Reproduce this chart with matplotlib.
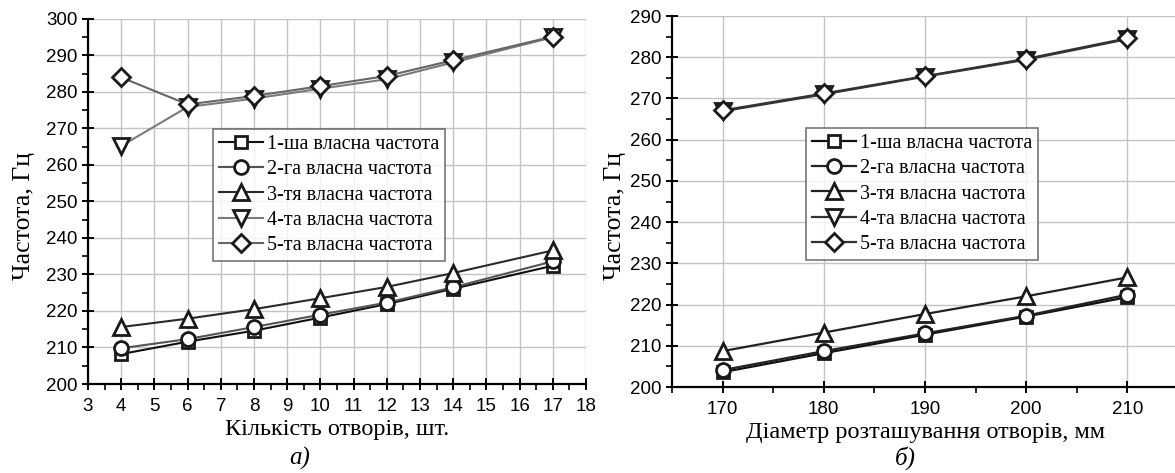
import matplotlib.pyplot as plt
from matplotlib.ticker import MultipleLocator

# ---- data: panel a) number of holes
holes = [4, 6, 8, 10, 12, 14, 17]
a_f1 = [208.2, 211.6, 214.6, 218.2, 221.9, 226.1, 232.4]
a_f2 = [209.8, 212.3, 215.6, 219.0, 222.3, 226.5, 233.6]
a_f3 = [215.6, 217.9, 220.5, 223.5, 226.6, 230.4, 236.6]
a_f4 = [265.2, 275.9, 278.2, 280.9, 283.5, 288.1, 295.0]
a_f5 = [284.0, 276.6, 278.9, 281.6, 284.4, 288.7, 295.2]

# ---- data: panel б) hole placement diameter
diam = [170, 180, 190, 200, 210]
b_f1 = [203.6, 208.2, 212.7, 217.1, 221.8]
b_f2 = [204.1, 208.7, 213.0, 217.3, 222.4]
b_f3 = [208.7, 213.2, 217.7, 222.0, 226.6]
b_f4 = [266.9, 271.0, 275.3, 279.4, 284.4]
b_f5 = [267.1, 271.2, 275.4, 279.6, 284.6]

labels = ['1-ша власна частота', '2-га власна частота', '3-тя власна частота',
          '4-та власна частота', '5-та власна частота']
markers = ['s', 'o', '^', 'v', 'D']
msizes = [9, 10, 11, 11, 9]
a_colors = ['#111111', '#555555', '#2a2a2a', '#7a7a7a', '#666666']
b_colors = ['#111111', '#222222', '#222222', '#333333', '#333333']

serif = ['Liberation Serif', 'DejaVu Serif']
sans = ['Liberation Sans', 'DejaVu Sans']

fig = plt.figure(figsize=(11.75, 4.73), dpi=100)
ax1 = fig.add_axes([88 / 1175, 1 - 384 / 473, (586 - 88) / 1175, (384 - 19) / 473])
ax2 = fig.add_axes([672 / 1175, 1 - 387 / 473, (1178 - 672) / 1175, (387 - 16) / 473])


def style_axes(ax, ylab_x):
    for s in ['top', 'right']:
        ax.spines[s].set_visible(False)
    for s in ['left', 'bottom']:
        ax.spines[s].set_linewidth(1.6)
    ax.grid(True, which='major', color='#c4c4c4', linewidth=1.0)
    ax.set_axisbelow(True)
    ax.tick_params(which='major', direction='inout', length=8, width=1.4,
                   labelsize=13.5, labelfontfamily=sans)
    ax.tick_params(axis='x', which='major', pad=6)
    ax.tick_params(which='minor', direction='out', length=4, width=1.2)
    ax.set_ylabel('Частота, Гц', family=serif, fontsize=18.5)
    ax.yaxis.set_label_coords(ylab_x, 0.46)


def draw(ax, x, series, colors, lw):
    for y, lab, m, ms, c in zip(series, labels, markers, msizes, colors):
        ax.plot(x, y, color=c, linewidth=lw, marker=m, markersize=ms,
                markerfacecolor='white', markeredgecolor='#1a1a1a',
                markeredgewidth=2.0, label=lab, clip_on=False, zorder=3)


draw(ax1, holes, [a_f1, a_f2, a_f3, a_f4, a_f5], a_colors, 1.5)
ax1.set_xlim(3, 18)
ax1.set_ylim(200, 300)
ax1.xaxis.set_major_locator(MultipleLocator(1))
ax1.xaxis.set_minor_locator(MultipleLocator(0.5))
ax1.yaxis.set_major_locator(MultipleLocator(10))
ax1.yaxis.set_minor_locator(MultipleLocator(5))
style_axes(ax1, -0.106)
ax1.set_xlabel('Кількість отворів, шт.', family=serif, fontsize=17.5, labelpad=3)

draw(ax2, diam, [b_f1, b_f2, b_f3, b_f4, b_f5], b_colors, 1.6)
ax2.set_xlim(165, 215)
ax2.set_ylim(200, 290)
ax2.xaxis.set_major_locator(MultipleLocator(10))
ax2.xaxis.set_minor_locator(MultipleLocator(5))
ax2.yaxis.set_major_locator(MultipleLocator(10))
ax2.yaxis.set_minor_locator(MultipleLocator(5))
style_axes(ax2, -0.09)
ax2.set_xlabel('Діаметр розташування отворів, мм', family=serif, fontsize=17.5,
               labelpad=3)

for ax, bbox in [(ax1, (210 / 1175, 1 - 258 / 473, 238 / 1175, 126 / 473)),
                 (ax2, (800 / 1175, 1 - 258 / 473, 244 / 1175, 128 / 473))]:
    leg = ax.legend(loc='center', bbox_to_anchor=bbox, bbox_transform=fig.transFigure,
                    prop={'family': serif, 'size': 14.5}, frameon=True, fancybox=False,
                    handlelength=2.2, handletextpad=0.2, labelspacing=0.3,
                    borderpad=0.3, borderaxespad=0)
    leg.get_frame().set_edgecolor('#555555')
    leg.get_frame().set_linewidth(1.2)
    leg.set_zorder(5)

fig.text(300 / 1175, 1 - 458 / 473, 'а)', family=serif, style='italic', fontsize=18,
         ha='center', va='center')
fig.text(905 / 1175, 1 - 458 / 473, 'б)', family=serif, style='italic', fontsize=18,
         ha='center', va='center')

fig.savefig('out.png', dpi=100)
